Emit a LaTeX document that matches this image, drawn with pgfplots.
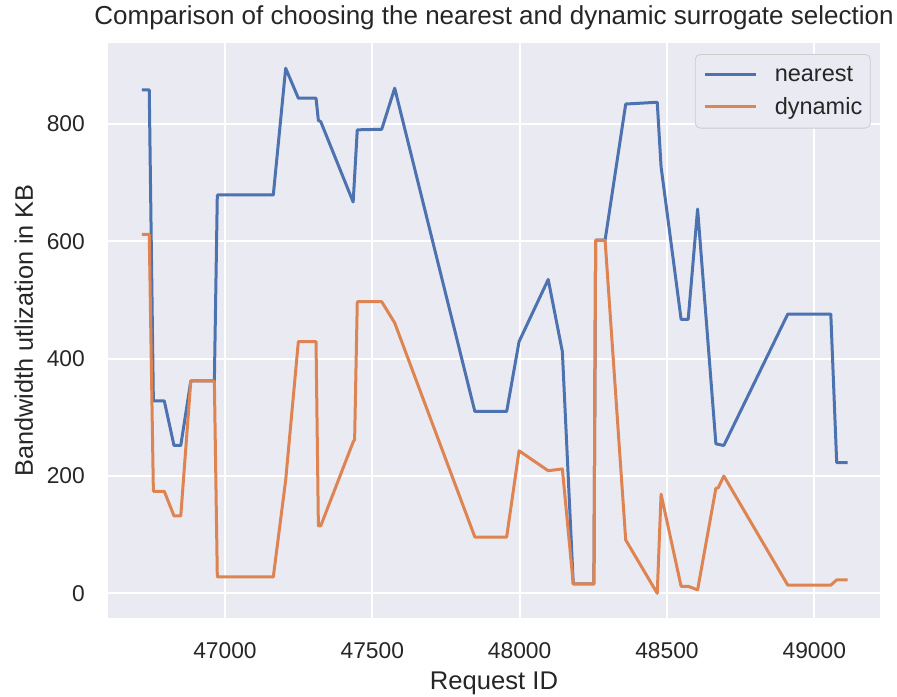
\documentclass[border=0pt]{standalone}
\usepackage{fontspec}
\setmainfont{Liberation Sans}
\usepackage{pgfplots}
\usepackage{pgfplotstable}
\pgfplotsset{compat=1.18}
\definecolor{sbbg}{HTML}{EAEAF2}
\definecolor{sbblue}{HTML}{4C72B0}
\definecolor{sborange}{HTML}{DD8452}
\definecolor{sbtext}{HTML}{262626}
\definecolor{sbedge}{HTML}{CCCCCC}

\pgfplotstableread{
x      y
46718  858
46743  858
46757  328
46794  328
46827  252
46850  252
46884  362
46964  362
46974  679
47164  679
47206  895
47249  844
47309  844
47317  806
47325  804
47435  667
47449  790
47532  791
47576  861
47848  310
47956  310
47998  429
48097  535
48145  412
48182  16
48252  16
48258  602
48290  602
48360  834
48467  837
48480  727
48548  467
48572  467
48604  655
48666  255
48674  254
48693  252
48910  476
49056  476
49076  223
49113  223
}\nearest

\pgfplotstableread{
x      y
46718  612
46743  612
46757  174
46794  174
46827  132
46850  132
46884  362
46964  362
46974  28
47164  28
47206  193
47249  429
47309  429
47317  115
47325  115
47435  258
47440  262
47449  497
47532  497
47576  461
47848  96
47956  96
47998  243
48097  209
48145  212
48182  16
48252  16
48258  602
48290  602
48360  91
48467  0
48480  169
48548  12
48572  12
48604  6
48666  179
48674  180
48693  200
48910  14
49056  14
49076  23
49113  23
}\dynamic

\begin{document}
\begin{tikzpicture}
\useasboundingbox (-108bp,-79bp) rectangle (789bp,618bp);
\begin{axis}[
  at={(0,0)}, anchor=south west,
  scale only axis, width=772bp, height=575bp,
  xmin=46603, xmax=49223, ymin=-42, ymax=938,
  xtick={47000,47500,48000,48500,49000},
  ytick={0,200,400,600,800},
  scaled ticks=false,
  /pgf/number format/1000 sep={},
  /pgf/number format/assume math mode=true,
  axis background/.style={fill=sbbg},
  axis line style={draw=none},
  major tick length=0pt,
  grid=major,
  major grid style={white, line width=1.8bp},
  tick label style={font=\fontsize{22.8bp}{27bp}\selectfont, text=sbtext},
  xticklabel style={anchor=base, yshift=-40bp, inner sep=0pt},
  yticklabel style={anchor=east, xshift=-23bp, inner sep=0pt},
  title={Comparison of choosing the nearest and dynamic surrogate selection},
  title style={at={(axis description cs:0.5,1.02261)}, anchor=base, inner sep=0pt,
    font=\fontsize{26bp}{30bp}\selectfont, text=sbtext},
  xlabel={Request ID},
  xlabel style={at={(axis description cs:0.5,-0.12522)}, anchor=base, inner sep=0pt,
    font=\fontsize{25.6bp}{30bp}\selectfont, text=sbtext},
  ylabel={Bandwidth utlization in KB},
  ylabel style={at={(axis description cs:-0.09715,0.5)}, anchor=base, inner sep=0pt,
    font=\fontsize{25.3bp}{30bp}\selectfont, text=sbtext},
  legend style={at={(axis description cs:0.98795,0.98087)}, anchor=north east,
    draw=sbedge, fill=sbbg, rounded corners=5bp, line width=0.8bp,
    font=\fontsize{23.5bp}{27bp}\selectfont, text=sbtext,
    inner xsep=8bp, inner ysep=12bp, row sep=14.5bp,
    cells={anchor=west},
    nodes={inner sep=0pt},
    /tikz/every odd column/.append style={column sep=17.5bp}},
  legend image code/.code={\draw[#1] (0bp,0bp) -- (51bp,0bp);},
  every axis plot/.append style={line width=3bp, line join=round},
]
\addplot[sbblue] table[x=x, y=y] {\nearest};
\addlegendentry{nearest}
\addplot[sborange] table[x=x, y=y] {\dynamic};
\addlegendentry{dynamic}
\end{axis}
\end{tikzpicture}
\end{document}
